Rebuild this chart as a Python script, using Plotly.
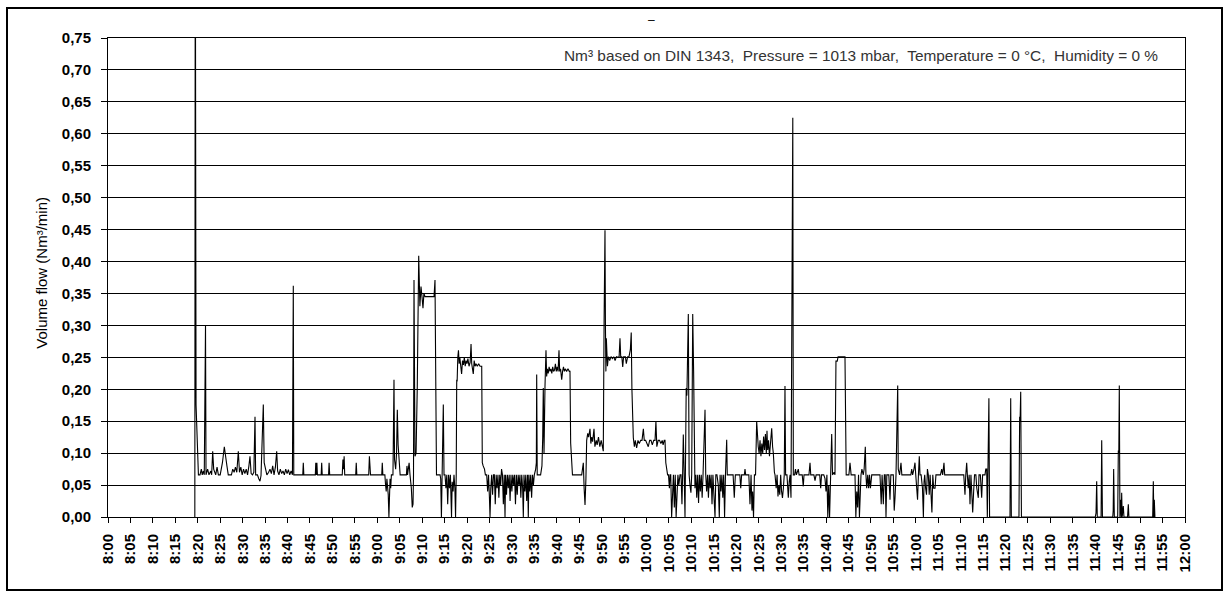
import plotly.graph_objects as go

# ---- Volume flow readings: time in minutes after 8:00, value in Nm³/min ----
t_a = [19.35, 19.45, 19.62, 19.95, 20.15, 20.5, 20.8, 21.0, 21.25, 21.45, 21.55, 21.63, 21.73, 21.84,
       22.2, 22.5, 22.9, 23.1, 23.33, 23.55, 23.8, 24.0, 24.3, 24.6, 25.0, 25.5, 25.92, 26.2, 26.5, 26.8,
       27.5, 27.8, 28.1, 28.4, 28.7, 29.04, 29.3, 29.6, 29.9, 30.2, 30.5, 30.8, 31.1, 31.4, 31.64, 31.9,
       32.2, 32.5, 32.76, 32.9, 33.3, 33.6, 33.87, 34.1, 34.45, 34.61, 34.8, 35.1, 35.4, 35.8, 36.1, 36.4,
       36.7, 37.0, 37.3, 37.59, 37.8, 38.1, 38.4, 38.7, 39.0, 39.3, 39.6, 39.9, 40.2, 40.5, 40.8, 41.1,
       41.2, 41.29, 41.4]
v_a = [0.0, 1.0, 0.176, 0.095, 0.066, 0.066, 0.075, 0.066, 0.072, 0.066, 0.218, 0.21, 0.30, 0.066,
       0.075, 0.066, 0.072, 0.066, 0.103, 0.075, 0.07, 0.066, 0.078, 0.066, 0.066, 0.085, 0.11, 0.09, 0.08, 0.066,
       0.066, 0.075, 0.07, 0.078, 0.07, 0.103, 0.07, 0.078, 0.066, 0.075, 0.068, 0.075, 0.066, 0.08, 0.095, 0.068,
       0.066, 0.07, 0.157, 0.066, 0.066, 0.06, 0.056, 0.065, 0.13, 0.176, 0.085, 0.075, 0.066, 0.07, 0.075, 0.068,
       0.08, 0.066, 0.078, 0.103, 0.072, 0.066, 0.075, 0.068, 0.072, 0.066, 0.075, 0.068, 0.074, 0.066, 0.072, 0.066,
       0.215, 0.362, 0.066]

t_b = [43.4, 43.52, 43.64, 46.2, 46.3, 46.42, 46.55, 46.67, 47.5, 47.62, 47.74, 49.15, 49.27, 49.4,
       52.2, 52.35, 52.5, 52.62, 52.75, 55.2, 55.32, 55.45, 58.1, 58.25, 58.4, 58.5, 61.0, 61.12, 61.25,
       61.7, 61.85, 62.0, 62.15, 62.3, 62.45, 62.6, 62.72, 62.85, 63.0, 63.15, 63.5, 63.62, 63.73, 63.85,
       64.1, 64.3, 64.47, 64.65, 64.9, 65.1, 66.5, 66.62, 66.75, 67.1, 67.3, 67.6, 67.8, 67.97, 68.08,
       68.19, 68.41, 68.65, 68.92, 69.24, 69.5, 69.75, 69.97, 70.19, 70.4, 70.64, 71.5, 72.65, 72.87,
       73.02, 73.2]
v_b = [0.066, 0.085, 0.066, 0.066, 0.085, 0.066, 0.085, 0.066, 0.066, 0.085, 0.066, 0.066, 0.085, 0.066,
       0.066, 0.09, 0.075, 0.095, 0.066, 0.066, 0.085, 0.066, 0.066, 0.095, 0.07, 0.066, 0.066, 0.085, 0.066,
       0.066, 0.05, 0.04, 0.06, 0.045, 0.035, 0.0, 0.04, 0.06, 0.045, 0.066, 0.066, 0.142, 0.215, 0.09,
       0.075, 0.1, 0.168, 0.113, 0.075, 0.066, 0.066, 0.08, 0.066, 0.085, 0.066, 0.045, 0.015, 0.02, 0.066,
       0.371, 0.095, 0.1, 0.204, 0.409, 0.33, 0.361, 0.345, 0.327, 0.35, 0.345, 0.345, 0.345, 0.371,
       0.181, 0.066]

t_c = [74.0, 74.14, 74.3, 74.5, 74.72, 74.88, 75.1, 75.3, 75.5, 75.7, 75.9, 76.1, 76.3, 76.55, 76.7,
       76.9, 77.1, 77.3, 77.45, 77.6, 77.71, 77.8, 77.95, 78.1, 78.25, 78.4, 78.55, 78.8, 79.0, 79.2,
       79.4, 79.6, 79.8, 80.0, 80.2, 80.45, 80.7, 80.9, 81.05, 81.4, 81.6, 81.8, 82.0, 82.3, 82.6, 82.9,
       83.28, 83.41, 83.6, 83.9, 84.1]
v_c = [0.066, 0.06, 0.0, 0.066, 0.176, 0.066, 0.066, 0.045, 0.066, 0.02, 0.066, 0.045, 0.066, 0.0, 0.055,
       0.04, 0.066, 0.045, 0.0, 0.066, 0.215, 0.212, 0.25, 0.261, 0.24, 0.25, 0.24, 0.224, 0.245, 0.238,
       0.25, 0.236, 0.245, 0.24, 0.248, 0.236, 0.242, 0.271, 0.24, 0.224, 0.245, 0.236, 0.24, 0.236, 0.24, 0.236,
       0.236, 0.085, 0.08, 0.075, 0.066]

t_d = [84.39, 84.6, 84.8, 85.0, 85.13, 85.3, 85.5, 85.7, 85.9, 86.1, 86.3, 86.5, 86.7, 86.9, 87.1, 87.3,
       87.5, 87.7, 87.9, 88.1, 88.3, 88.47, 88.6, 88.8, 89.0, 89.2, 89.4, 89.6, 89.8, 90.0, 90.2, 90.4,
       90.6, 90.8, 91.0, 91.2, 91.4, 91.6, 91.8, 92.0, 92.2, 92.4, 92.55, 92.7, 92.9, 93.1, 93.3, 93.5,
       93.66, 93.8, 94.0, 94.2, 94.4, 94.6, 94.8, 95.0, 95.3, 95.45, 95.53, 95.65, 96.0, 96.4, 96.7, 96.87,
       97.0, 97.16, 97.38]
v_d = [0.066, 0.04, 0.066, 0.03, 0.0, 0.045, 0.066, 0.035, 0.066, 0.066, 0.02, 0.066, 0.045, 0.066, 0.03, 0.066,
       0.05, 0.075, 0.066, 0.02, 0.066, 0.0, 0.066, 0.035, 0.066, 0.045, 0.066, 0.025, 0.066, 0.04, 0.066, 0.05,
       0.066, 0.02, 0.066, 0.035, 0.066, 0.05, 0.066, 0.03, 0.066, 0.045, 0.0, 0.066, 0.04, 0.066, 0.025, 0.066,
       0.0, 0.066, 0.04, 0.066, 0.03, 0.066, 0.05, 0.066, 0.075, 0.085, 0.223, 0.066, 0.066, 0.066, 0.08, 0.124,
       0.202, 0.1, 0.204]

t_e = [97.6, 97.75, 97.9, 98.1, 98.3, 98.5, 98.7, 98.9, 99.1, 99.3, 99.5, 99.7, 99.9, 100.1, 100.3,
       100.5, 100.65, 100.85, 101.1, 101.3, 101.5, 101.7, 101.9, 102.2, 102.5, 102.8, 102.95, 103.1,
       103.33, 103.5]
v_e = [0.261, 0.22, 0.232, 0.225, 0.235, 0.228, 0.232, 0.225, 0.235, 0.228, 0.23, 0.24, 0.228, 0.235, 0.228,
       0.261, 0.228, 0.232, 0.215, 0.228, 0.235, 0.228, 0.232, 0.228, 0.232, 0.228, 0.228, 0.116,
       0.082, 0.066]

t_f = [105.56, 105.92, 106.1, 106.3, 106.5, 106.67, 106.9, 107.1, 107.41, 107.6, 107.8, 108.0, 108.3,
       108.5, 108.8, 109.0, 109.3, 109.6, 109.9, 110.2, 110.37, 110.55, 110.65, 110.75, 110.85, 110.95,
       111.05, 111.13, 111.3, 111.5, 111.8, 112.1, 112.4, 112.7, 113.0, 113.3, 113.6, 113.9, 114.09,
       114.25, 114.5, 114.7, 114.9, 115.3, 115.5, 115.8, 116.1, 116.4, 116.6, 116.75, 117.06, 117.3, 117.5]
v_f = [0.066, 0.085, 0.045, 0.019, 0.06, 0.12, 0.131, 0.125, 0.138, 0.115, 0.125, 0.118, 0.138,
       0.11, 0.12, 0.113, 0.125, 0.11, 0.12, 0.108, 0.103, 0.306, 0.362, 0.449, 0.30, 0.228,
       0.28, 0.251, 0.236, 0.251, 0.245, 0.251, 0.248, 0.251, 0.245, 0.251, 0.25, 0.251, 0.28,
       0.251, 0.251, 0.235, 0.251, 0.251, 0.24, 0.251, 0.251, 0.262, 0.289, 0.2, 0.124, 0.11, 0.12]

t_g = [117.8, 118.1, 118.4, 118.7, 119.0, 119.3, 119.5, 119.8, 120.1, 120.4, 120.7, 121.0, 121.3,
       121.6, 121.9, 122.1, 122.3, 122.6, 122.9, 123.2, 123.5, 123.7, 123.95, 124.12, 124.3, 124.5, 124.7]
v_g = [0.108, 0.12, 0.115, 0.12, 0.12, 0.138, 0.12, 0.12, 0.115, 0.11, 0.12, 0.12, 0.113,
       0.12, 0.12, 0.15, 0.11, 0.12, 0.12, 0.115, 0.12, 0.113, 0.12, 0.12, 0.085, 0.074, 0.066]

t_h = [124.9, 125.1, 125.24, 125.4, 125.6, 125.8, 126.0, 126.2, 126.4, 126.6, 126.8, 127.0, 127.2,
       127.47, 127.7, 127.9, 128.05, 128.2, 128.4, 128.58, 128.85, 129.0, 129.32, 129.5, 129.69, 129.9,
       130.07, 130.3, 130.5, 130.65, 130.8, 131.0, 131.19, 131.4, 131.6, 131.8, 132.0, 132.2, 132.4,
       132.6, 132.85, 133.04, 133.2, 133.4, 133.6, 133.8, 134.0, 134.2, 134.4, 134.6, 134.8, 135.0,
       135.27, 135.45, 135.7, 136.0, 136.22, 136.4, 136.6, 136.8, 137.0, 137.2, 137.4, 137.6, 137.87,
       138.0, 139.3, 139.56, 139.8, 140.8, 141.0, 141.2, 141.8, 141.95, 142.1, 142.8, 143.06, 143.3,
       143.5, 143.65, 143.85, 144.05, 144.3]
v_h = [0.066, 0.045, 0.066, 0.066, 0.0, 0.04, 0.066, 0.015, 0.066, 0.0, 0.03, 0.066, 0.05,
       0.066, 0.066, 0.02, 0.066, 0.129, 0.066, 0.0, 0.202, 0.19, 0.318, 0.066, 0.05, 0.038,
       0.066, 0.318, 0.228, 0.066, 0.045, 0.066, 0.03, 0.066, 0.022, 0.066, 0.04, 0.066, 0.03,
       0.066, 0.121, 0.168, 0.066, 0.04, 0.066, 0.03, 0.066, 0.045, 0.066, 0.02, 0.066, 0.035,
       0.0, 0.066, 0.066, 0.05, 0.0, 0.066, 0.04, 0.066, 0.03, 0.066, 0.0, 0.066, 0.121,
       0.066, 0.066, 0.03, 0.066, 0.066, 0.045, 0.066, 0.066, 0.075, 0.066, 0.066, 0.02, 0.066,
       0.01, 0.04, 0.0, 0.066, 0.066]

t_i = [144.55, 144.7, 144.9, 145.1, 145.3, 145.5, 145.7, 145.9, 146.1, 146.3, 146.5, 146.7, 146.85,
       147.0, 147.2, 147.4, 147.6, 147.9, 148.1, 148.26, 148.5, 148.64, 148.9, 149.1, 149.3, 149.5,
       149.7, 149.9, 150.1, 150.3, 150.5, 150.7, 150.86, 151.0, 151.3, 151.6, 151.8, 152.0, 152.2,
       152.4, 152.5, 152.6, 152.72, 153.0, 153.2, 153.4, 153.83, 154.0, 154.7, 154.94, 155.1]
v_i = [0.15, 0.125, 0.11, 0.1, 0.12, 0.095, 0.115, 0.1, 0.126, 0.105, 0.13, 0.1, 0.135,
       0.105, 0.12, 0.095, 0.115, 0.139, 0.11, 0.1, 0.07, 0.066, 0.045, 0.066, 0.032, 0.05,
       0.035, 0.066, 0.04, 0.03, 0.045, 0.066, 0.205, 0.066, 0.066, 0.03, 0.055, 0.066, 0.03,
       0.50, 0.48, 0.625, 0.066, 0.066, 0.075, 0.066, 0.075, 0.066, 0.066, 0.048, 0.066]

t_j = [156.2, 156.44, 156.6, 157.3, 157.55, 157.8, 158.6, 158.82, 159.0, 159.5, 159.78, 160.0, 160.2,
       160.4, 160.6, 160.8, 161.05, 161.27, 161.45, 161.8, 162.0, 162.22, 162.5, 162.7, 164.23, 164.35,
       164.5, 165.1, 165.35, 165.6, 166.46, 166.65, 166.85, 167.05, 167.25, 167.45, 167.6, 167.8, 168.0,
       168.3, 168.5, 168.76, 168.9, 169.07, 169.3, 169.5, 169.7, 169.9, 170.19, 172.03, 172.3, 172.5,
       172.77, 173.0, 173.2, 173.37, 173.55, 174.0, 174.26, 174.45, 175.0, 175.2, 175.38, 175.6, 175.98,
       176.1, 176.4, 176.71, 176.9]
v_j = [0.066, 0.085, 0.066, 0.066, 0.057, 0.066, 0.066, 0.045, 0.066, 0.066, 0.06, 0.04, 0.066,
       0.0, 0.05, 0.0, 0.066, 0.13, 0.066, 0.07, 0.066, 0.244, 0.244, 0.251, 0.251, 0.16,
       0.066, 0.066, 0.085, 0.066, 0.066, 0.0, 0.04, 0.015, 0.066, 0.0, 0.038, 0.066, 0.075,
       0.066, 0.075, 0.11, 0.066, 0.045, 0.066, 0.045, 0.066, 0.045, 0.066, 0.066, 0.02, 0.066,
       0.02, 0.066, 0.066, 0.0, 0.066, 0.066, 0.027, 0.066, 0.066, 0.01, 0.03, 0.066, 0.206,
       0.075, 0.066, 0.085, 0.066]

t_k = [178.9, 179.1, 179.3, 179.6, 179.83, 180.0, 180.4, 180.6, 180.79, 180.95, 181.2, 181.5, 181.7,
       181.85, 182.0, 182.2, 182.4, 182.6, 182.8, 183.0, 183.2, 183.6, 183.8, 184.0, 184.3, 184.5,
       185.5, 185.78, 186.0, 186.29, 186.45, 190.7, 190.97, 191.15, 191.35, 191.5, 191.7, 191.9, 192.09,
       192.3, 192.5, 192.69, 192.9, 193.1, 193.4, 193.6, 193.94, 194.1, 194.4, 194.69, 194.9, 195.43,
       195.6, 195.81, 195.95, 196.1, 196.2, 196.3, 196.45]
v_k = [0.066, 0.075, 0.066, 0.075, 0.085, 0.066, 0.027, 0.066, 0.095, 0.066, 0.066, 0.045, 0.0,
       0.055, 0.066, 0.045, 0.035, 0.075, 0.066, 0.035, 0.066, 0.007, 0.066, 0.045, 0.045, 0.066,
       0.066, 0.075, 0.066, 0.085, 0.066, 0.066, 0.035, 0.066, 0.085, 0.066, 0.045, 0.066, 0.02,
       0.066, 0.045, 0.007, 0.04, 0.066, 0.066, 0.045, 0.03, 0.066, 0.066, 0.03, 0.066, 0.066,
       0.075, 0.075, 0.0, 0.137, 0.13, 0.186, 0.0]

t_l = [201.0, 201.16, 201.3, 203.0, 203.15, 203.25, 203.39, 203.55, 220.0, 220.17, 220.32, 220.45,
       221.3, 221.44, 221.6, 223.9, 224.0, 224.1, 224.25, 225.0, 225.14, 225.25, 225.36, 225.5, 225.67,
       225.8, 225.89, 226.0, 226.25, 226.4, 227.2, 227.37, 227.5, 232.8, 232.94, 233.05, 233.16, 233.3]
v_l = [0.0, 0.186, 0.0, 0.0, 0.157, 0.15, 0.196, 0.0, 0.0, 0.006, 0.056, 0.0,
       0.0, 0.12, 0.0, 0.0, 0.01, 0.075, 0.0, 0.0, 0.104, 0.1, 0.206, 0.0, 0.027,
       0.0, 0.038, 0.0, 0.017, 0.0, 0.0, 0.02, 0.0, 0.0, 0.056, 0.0, 0.027, 0.0]

minutes = t_a + t_b + t_c + t_d + t_e + t_f + t_g + t_h + t_i + t_j + t_k + t_l
flow = v_a + v_b + v_c + v_d + v_e + v_f + v_g + v_h + v_i + v_j + v_k + v_l

tick_minutes = list(range(0, 241, 5))
tick_labels = [f"{8 + m // 60}:{m % 60:02d}" for m in tick_minutes]

y_title = "Volume flow (Nm³/min)"
note = "Nm³ based on DIN 1343,  Pressure = 1013 mbar,  Temperature = 0 °C,  Humidity = 0 %"

FONT = "Arial, Liberation Sans, sans-serif"

fig = go.Figure(go.Scatter(x=minutes, y=flow, mode="lines",
                           line=dict(color="black", width=1.1), hoverinfo="skip"))

fig.update_layout(
    width=1227, height=592,
    margin=dict(l=108, r=42, t=38, b=75),
    paper_bgcolor="white", plot_bgcolor="white",
    separators=",.", showlegend=False,
    font=dict(family=FONT, color="black"),
)

fig.update_xaxes(
    range=[0, 240], tickmode="array", tickvals=tick_minutes, ticktext=tick_labels,
    tickangle=-90, ticks="outside", ticklen=5, tickcolor="black", tickwidth=1,
    ticklabelstandoff=5,
    showline=True, linecolor="black", linewidth=1, mirror=True,
    showgrid=False, zeroline=False,
    tickfont=dict(family=FONT, size=15, color="black", weight="bold"),
)
fig.update_yaxes(
    range=[0, 0.75], tick0=0, dtick=0.05, tickformat=".2f",
    ticks="outside", ticklen=6, tickcolor="black", tickwidth=1,
    ticklabelstandoff=7,
    showline=True, linecolor="black", linewidth=1, mirror=True,
    showgrid=True, gridcolor="black", gridwidth=1, zeroline=False,
    tickfont=dict(family=FONT, size=15, color="black", weight="bold"),
)

# outer frame
fig.add_shape(type="rect", xref="paper", yref="paper",
              x0=(7 - 108) / 1077, x1=(1222 - 108) / 1077,
              y0=(517 - 590) / 479, y1=(517 - 8) / 479,
              line=dict(color="black", width=2), fillcolor="rgba(0,0,0,0)", layer="below")

fig.add_annotation(text=y_title, xref="paper", yref="paper",
                   x=(42 - 108) / 1077, y=0.51, textangle=-90, showarrow=False,
                   xanchor="center", yanchor="middle",
                   font=dict(family=FONT, size=15, color="black"))
fig.add_annotation(text=note, xref="paper", yref="paper",
                   x=(1160 - 108) / 1077, y=(517 - 55) / 479, showarrow=False,
                   xanchor="right", yanchor="middle",
                   font=dict(family=FONT, size=15.4, color="#333333"))
fig.add_annotation(text="–", xref="paper", yref="paper",
                   x=(651 - 108) / 1077, y=(517 - 20) / 479, showarrow=False,
                   xanchor="center", yanchor="middle",
                   font=dict(family=FONT, size=12, color="black"))

fig.write_html("out.html")
